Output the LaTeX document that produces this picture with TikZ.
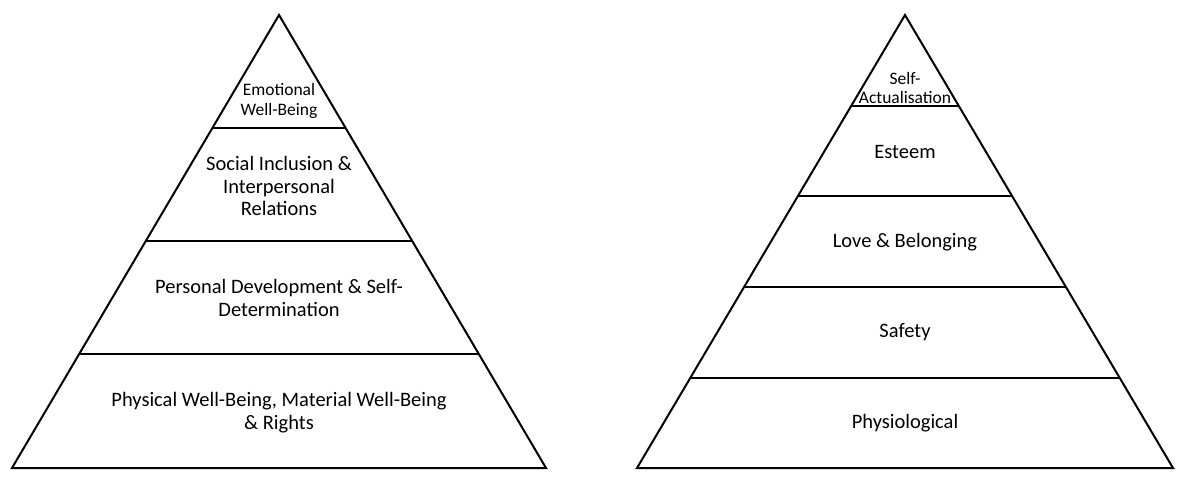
\documentclass[tikz,border=0pt]{standalone}
\usepackage{fontspec}
\setmainfont{Carlito}
\begin{document}
\begin{tikzpicture}[x=1pt,y=-1pt,line width=2pt,
  lbl/.style={align=center,font=\fontsize{20.5}{22.8}\selectfont,inner sep=0pt},
  sml/.style={align=center,font=\fontsize{17.5}{19.5}\selectfont,inner sep=0pt}]
\useasboundingbox (0,0) rectangle (1189,477);
\coordinate (la) at (279,15); \coordinate (lb) at (12,468); \coordinate (lc) at (546,468);
\coordinate (ra) at (905,15); \coordinate (rb) at (637,468); \coordinate (rc) at (1173,468);
\begin{scope}
\clip (la)--(lb)--(lc)--cycle;
\foreach \y in {128,241,354} \draw (0,\y)--(600,\y);
\end{scope}
\begin{scope}
\clip (ra)--(rb)--(rc)--cycle;
\foreach \y in {106,196,287,378} \draw (600,\y)--(1189,\y);
\end{scope}
\draw[line join=miter] (la)--(lb)--(lc)--cycle;
\draw[line join=miter] (ra)--(rb)--(rc)--cycle;
\node[sml] (e) at (279,101) {Emotional\\Well-Being};
\node[lbl] (s) at (279,186) {Social Inclusion \&\\Interpersonal\\Relations};
\node[lbl] (p) at (279,298) {Personal Development \& Self-\\Determination};
\node[lbl] (w) at (279,413) {Physical Well-Being, Material Well-Being\\\& Rights};
\node[sml] (sa) at (905,88) {Self-\\Actualisation};
\node[lbl] (es) at (905,152) {Esteem};
\node[lbl] (lo) at (905,242) {Love \& Belonging};
\node[lbl] (sf) at (905,332) {Safety};
\node[lbl] (ph) at (905,423) {Physiological};
\end{tikzpicture}
\end{document}
